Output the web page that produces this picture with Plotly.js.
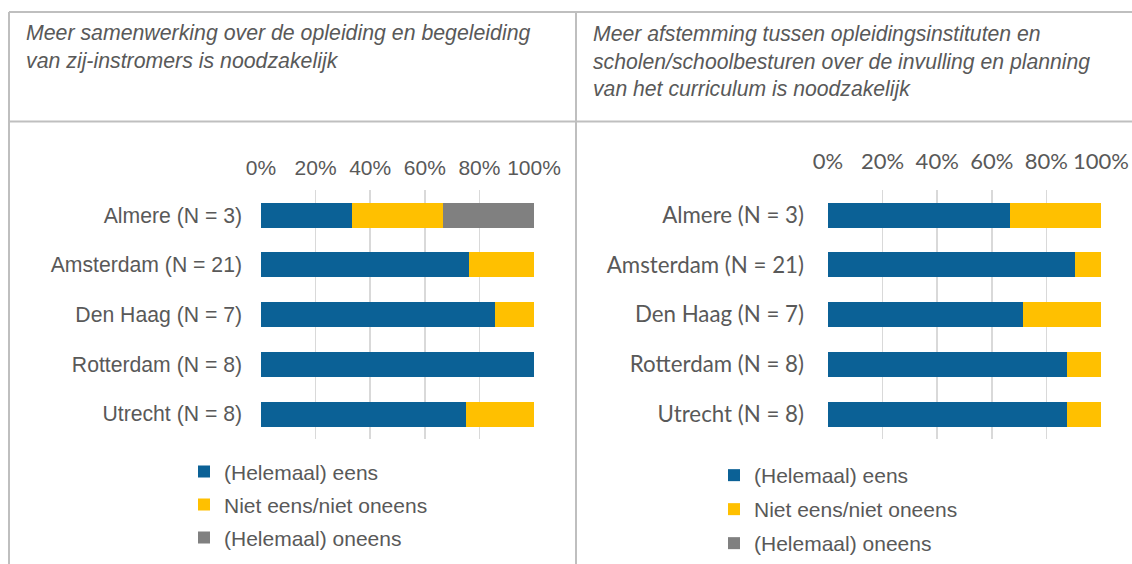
<!DOCTYPE html>
<html>
<head>
<meta charset="utf-8">
<script src="https://cdn.plot.ly/plotly-3.0.1.min.js"></script>
<style>
html,body{margin:0;padding:0;background:#fff;overflow:hidden;}
#chart{width:1132px;height:564px;}
</style>
</head>
<body>
<div id="chart"></div>
<script>
// ---- data ----
var categories = ['Almere (N = 3)', 'Amsterdam (N = 21)', 'Den Haag (N = 7)', 'Rotterdam (N = 8)', 'Utrecht (N = 8)'];
var seriesNames = ['(Helemaal) eens', 'Niet eens/niet oneens', '(Helemaal) oneens'];
var leftEens    = [33.3, 76.2, 85.7, 100, 75.0];
var leftNeutral = [33.3, 23.8, 14.3, 0, 25.0];
var leftOneens  = [33.4, 0, 0, 0, 0];
var rightEens    = [66.7, 90.5, 71.4, 87.5, 87.5];
var rightNeutral = [33.3, 9.5, 28.6, 12.5, 12.5];
var rightOneens  = [0, 0, 0, 0, 0];
var xTickVals = [0, 20, 40, 60, 80, 100];
var xTickText = ['0%', '20%', '40%', '60%', '80%', '100%'];
var leftTitle = 'Meer samenwerking over de opleiding en begeleiding<br>van zij-instromers is noodzakelijk';
var rightTitle = 'Meer afstemming tussen opleidingsinstituten en<br>scholen/schoolbesturen over de invulling en planning<br>van het curriculum is noodzakelijk';

// ---- styling ----
var colors = ['#0B6196', '#FFC000', '#808080'];
var W = 1132, H = 564;
function px(x){ return x / W; }
function py(y){ return 1 - y / H; }
var arial = 'Liberation Sans, Arial, sans-serif';
var calib = 'Lato, Carlito, Calibri, sans-serif';
var textCol = '#595959';

var leftSets = [leftEens, leftNeutral, leftOneens];
var rightSets = [rightEens, rightNeutral, rightOneens];
var traces = [];
leftSets.forEach(function(vals, i){
  traces.push({
    type: 'bar', orientation: 'h', x: vals, y: categories,
    name: seriesNames[i], marker: {color: colors[i], line: {width: 0}},
    xaxis: 'x', yaxis: 'y', legend: 'legend', legendgroup: 'L' + i,
    width: 0.5, hoverinfo: 'x+y+name'
  });
});
rightSets.forEach(function(vals, i){
  traces.push({
    type: 'bar', orientation: 'h', x: vals, y: categories,
    name: seriesNames[i], marker: {color: colors[i], line: {width: 0}},
    xaxis: 'x2', yaxis: 'y2', legend: 'legend2', legendgroup: 'R' + i,
    width: 0.5, hoverinfo: 'x+y+name'
  });
});

var yTop = 191, yBot = 440.5;
function xAxis(domain, anchor, font, size, standoff){
  return {
    domain: domain, anchor: anchor, side: 'top', range: [0, 100],
    tickmode: 'array', tickvals: xTickVals, ticktext: xTickText,
    showgrid: true, gridcolor: '#d9d9d9', gridwidth: 1.5,
    zeroline: false, showline: false, ticks: '', fixedrange: true,
    tickfont: {family: font, size: size, color: textCol}, ticklabelstandoff: standoff
  };
}
function yAxis(anchor, font, size, standoff){
  return {
    domain: [py(yBot), py(yTop)], anchor: anchor, type: 'category',
    categoryorder: 'array', categoryarray: categories, autorange: 'reversed',
    showgrid: false, zeroline: false, showline: false, ticks: '', fixedrange: true,
    tickfont: {family: font, size: size, color: textCol}, ticklabelstandoff: standoff
  };
}

var borderCol = '#bfbfbf';
function line(x0, y0, x1, y1){
  return {type: 'line', xref: 'paper', yref: 'paper', x0: px(x0), y0: py(y0), x1: px(x1), y1: py(y1),
          line: {color: borderCol, width: 2}, layer: 'above'};
}

var layout = {
  width: W, height: H, margin: {l: 0, r: 0, t: 0, b: 0, pad: 0},
  paper_bgcolor: '#ffffff', plot_bgcolor: 'rgba(0,0,0,0)',
  barmode: 'stack', showlegend: true,
  xaxis: xAxis([px(261), px(534)], 'y', arial, 21, 10),
  yaxis: yAxis('x', arial, 21.2, 18),
  xaxis2: xAxis([px(828), px(1101)], 'y2', calib, 22, 16),
  yaxis2: yAxis('x2', calib, 22.3, 23),
  legend: {x: px(184), y: py(453), xanchor: 'left', yanchor: 'top', orientation: 'v',
           traceorder: 'grouped', tracegroupgap: 2.7, bgcolor: 'rgba(0,0,0,0)',
           font: {family: arial, size: 21, color: textCol}},
  legend2: {x: px(714), y: py(457), xanchor: 'left', yanchor: 'top', orientation: 'v',
           traceorder: 'grouped', tracegroupgap: 3.7, bgcolor: 'rgba(0,0,0,0)',
           font: {family: arial, size: 21, color: textCol}},
  shapes: [
    line(9, 12, W + 5, 12),
    line(9, 122, W + 5, 122),
    line(9, 12, 9, H + 20),
    line(576, 12, 576, H + 20)
  ],
  annotations: [
    {xref: 'paper', yref: 'paper', x: px(24), y: py(19), xanchor: 'left', yanchor: 'top', align: 'left',
     showarrow: false, text: leftTitle,
     font: {family: arial, size: 21.3, color: textCol, style: 'italic'}},
    {xref: 'paper', yref: 'paper', x: px(591), y: py(20), xanchor: 'left', yanchor: 'top', align: 'left',
     showarrow: false, text: rightTitle,
     font: {family: arial, size: 21.2, color: textCol, style: 'italic'}}
  ]
};

Plotly.newPlot('chart', traces, layout, {displayModeBar: false, staticPlot: true});
</script>
</body>
</html>
